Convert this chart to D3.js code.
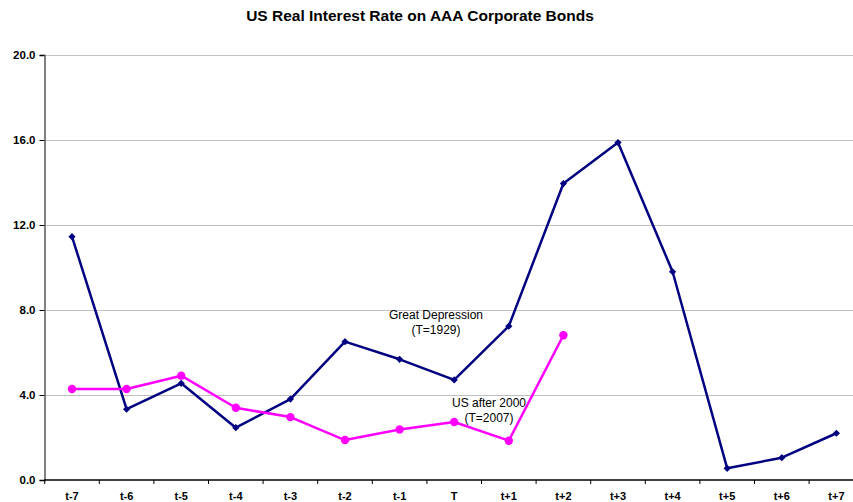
<!DOCTYPE html>
<html>
<head>
<meta charset="utf-8">
<script src="https://cdn.jsdelivr.net/npm/d3@7"></script>
<style>
  html, body { margin: 0; padding: 0; background: #fff; }
  svg { display: block; overflow: hidden; }
</style>
</head>
<body>
<script>
const categories = ["t-7","t-6","t-5","t-4","t-3","t-2","t-1","T","t+1","t+2","t+3","t+4","t+5","t+6","t+7"];
const greatDepression = [11.45, 3.33, 4.55, 2.46, 3.81, 6.51, 5.68, 4.71, 7.24, 13.95, 15.88, 9.80, 0.55, 1.05, 2.20];
const usAfter2000 = [4.28, 4.28, 4.91, 3.40, 2.96, 1.88, 2.38, 2.73, 1.85, 6.81];
const yTicks = [0, 4, 8, 12, 16, 20];
const title = "US Real Interest Rate on AAA Corporate Bonds";

const W = 853, H = 502;
const svg = d3.select("body").append("svg").attr("width", W).attr("height", H);

const x = d3.scaleBand().domain(categories).range([44.7, 863.7]);
const y = d3.scaleLinear().domain([0, 20]).range([480, 55]);
const font = "Arial, 'Liberation Sans', sans-serif";

// title
svg.append("text").attr("x", 420).attr("y", 21).attr("text-anchor", "middle")
  .attr("font-family", font).attr("font-weight", "bold").attr("font-size", 15.5)
  .text(title);

// gridlines
svg.append("g").selectAll("line").data(yTicks.filter(d => d > 0)).join("line")
  .attr("x1", 45).attr("x2", W).attr("y1", d => y(d)).attr("y2", d => y(d))
  .attr("stroke", "#c0c0c0").attr("stroke-width", 1).attr("shape-rendering", "crispEdges");

// y axis
const yAxis = svg.append("g").attr("transform", "translate(44.5,0)")
  .call(d3.axisLeft(y).tickValues(yTicks).tickFormat(d3.format(".1f")).tickSize(5).tickPadding(4));
yAxis.select(".domain").attr("stroke", "#808080").attr("stroke-width", 2);
yAxis.selectAll(".tick line").attr("stroke", "#000");
yAxis.selectAll("text").attr("font-family", font).attr("font-weight", "bold").attr("font-size", 11.5).attr("fill", "#000");

// x axis
const xAxis = svg.append("g").attr("transform", "translate(0,480)")
  .call(d3.axisBottom(x).tickSize(0).tickPadding(12));
xAxis.select(".domain").remove();
xAxis.append("line").attr("x1", 44).attr("x2", W).attr("y1", 0).attr("y2", 0)
  .attr("stroke", "#000").attr("stroke-width", 1.5);
xAxis.selectAll("text").attr("font-family", font).attr("font-weight", "bold").attr("font-size", 11).attr("fill", "#000");
const bounds = categories.map(c => x(c)).concat([x(categories[categories.length-1]) + x.bandwidth()]);
xAxis.selectAll(".bt").data(bounds).join("line").attr("class", "bt")
  .attr("x1", d => d).attr("x2", d => d).attr("y1", 0).attr("y2", 4)
  .attr("stroke", "#000").attr("stroke-width", 1);

const cx = (d, i) => x(categories[i]) + x.bandwidth() / 2;
const line = d3.line().x(cx).y(d => y(d));

// Great Depression series
svg.append("path").datum(greatDepression).attr("d", line)
  .attr("fill", "none").attr("stroke", "#000080").attr("stroke-width", 2.5).attr("stroke-linejoin", "round");
svg.append("g").selectAll("path").data(greatDepression).join("path")
  .attr("transform", (d, i) => `translate(${cx(d, i)},${y(d)}) rotate(45)`)
  .attr("d", d3.symbol(d3.symbolSquare, 26)())
  .attr("fill", "#000080");

// US after 2000 series
svg.append("path").datum(usAfter2000).attr("d", line)
  .attr("fill", "none").attr("stroke", "#FF00FF").attr("stroke-width", 2.5).attr("stroke-linejoin", "round");
svg.append("g").selectAll("circle").data(usAfter2000).join("circle")
  .attr("cx", cx).attr("cy", d => y(d)).attr("r", 4.2).attr("fill", "#FF00FF");

// annotations
const ann = [
  {t: "Great Depression", x: 436, y: 319},
  {t: "(T=1929)", x: 436, y: 334},
  {t: "US after 2000", x: 489, y: 407},
  {t: "(T=2007)", x: 489, y: 422}
];
svg.append("g").selectAll("text").data(ann).join("text")
  .attr("x", d => d.x).attr("y", d => d.y).attr("text-anchor", "middle")
  .attr("font-family", "'Liberation Sans Narrow', 'Arial Narrow', Arial, sans-serif").attr("font-size", 12).attr("fill", "#000")
  .text(d => d.t);
</script>
</body>
</html>
